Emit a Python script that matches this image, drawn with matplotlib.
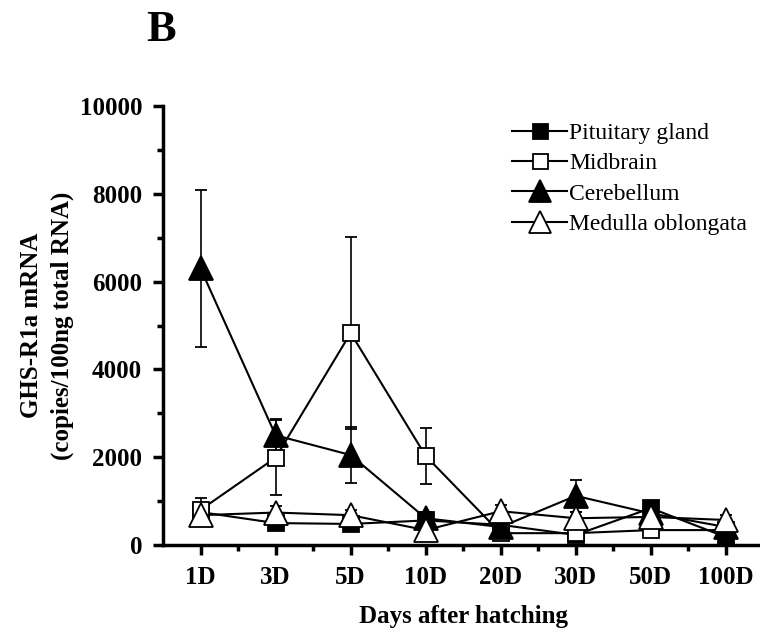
import matplotlib
matplotlib.use("Agg")
import matplotlib.pyplot as plt
from matplotlib.ticker import MultipleLocator
from matplotlib.lines import Line2D

plt.rcParams["font.family"] = ["Liberation Serif", "DejaVu Serif"]

days = ["1D", "3D", "5D", "10D", "20D", "30D", "50D", "100D"]

pituitary = [750, 500, 480, 560, 460, 230, 840, 180]
pituitary_err = [150, 120, 100, 120, 100, 80, 150, 80]

midbrain = [800, 1990, 4830, 2030, 270, 270, 340, 340]
midbrain_err = [270, 850, 2190, 630, 100, 100, 150, 100]

cerebellum = [6300, 2500, 2050, 610, 410, 1120, 720, 410]
cerebellum_err = [1780, 370, 640, 150, 120, 360, 150, 120]

medulla = [680, 740, 680, 340, 770, 610, 640, 570]
medulla_err = [150, 150, 120, 100, 150, 150, 180, 120]

series = [
    ("Pituitary gland", pituitary, pituitary_err, "s", "black", 12),
    ("Midbrain", midbrain, midbrain_err, "s", "white", 12),
    ("Cerebellum", cerebellum, cerebellum_err, "^", "black", 17),
    ("Medulla oblongata", medulla, medulla_err, "^", "white", 17),
]

fig = plt.figure(figsize=(7.6, 6.35), dpi=100)
ax = fig.add_axes([0.2145, 0.1417, 0.79, 0.6913])

x = list(range(len(days)))
handles = []
for name, vals, err, mk, fc, ms in series:
    ax.errorbar(x, vals, yerr=err, color="black", linewidth=1.5,
                marker=mk, markersize=ms, markerfacecolor=fc,
                markeredgecolor="black", markeredgewidth=1.3,
                ecolor="black", elinewidth=1.2, capsize=4, capthick=1.2,
                clip_on=False)
    handles.append(Line2D([], [], color="black", linewidth=1.5, marker=mk,
                          markersize=ms * 0.9, markerfacecolor=fc,
                          markeredgecolor="black", markeredgewidth=1.3,
                          label=name))

ax.set_xlim(-0.5, 7.5)
ax.set_ylim(0, 10000)
ax.set_xticks(x)
ax.set_xticklabels(days)
ax.set_xticks([i + 0.5 for i in range(len(days) - 1)], minor=True)
ax.yaxis.set_major_locator(MultipleLocator(2000))
ax.yaxis.set_minor_locator(MultipleLocator(1000))

for side in ("top", "right"):
    ax.spines[side].set_visible(False)
for side in ("left", "bottom"):
    ax.spines[side].set_linewidth(2.5)

ax.tick_params(which="major", direction="out", length=7, width=2.5,
               labelsize=18, pad=8)
ax.tick_params(which="minor", direction="out", length=4, width=2.5)
for lbl in ax.get_xticklabels() + ax.get_yticklabels():
    lbl.set_fontweight("bold")

ax.set_xlabel("Days after hatching", fontsize=18, fontweight="bold", labelpad=11.5)
ax.set_ylabel("GHS-R1a mRNA\n(copies/100ng total RNA)", fontsize=18,
              fontweight="bold", labelpad=4, linespacing=1.45)

ax.legend(handles=handles, loc="upper right", bbox_to_anchor=(1.0, 1.0),
          frameon=False, fontsize=17, handlelength=2.3, handletextpad=0.1,
          labelspacing=0.37, borderaxespad=0.3)

fig.text(0.193, 0.985, "B", fontsize=32, fontweight="bold", va="top", ha="left")

fig.savefig("out.png", dpi=100)
